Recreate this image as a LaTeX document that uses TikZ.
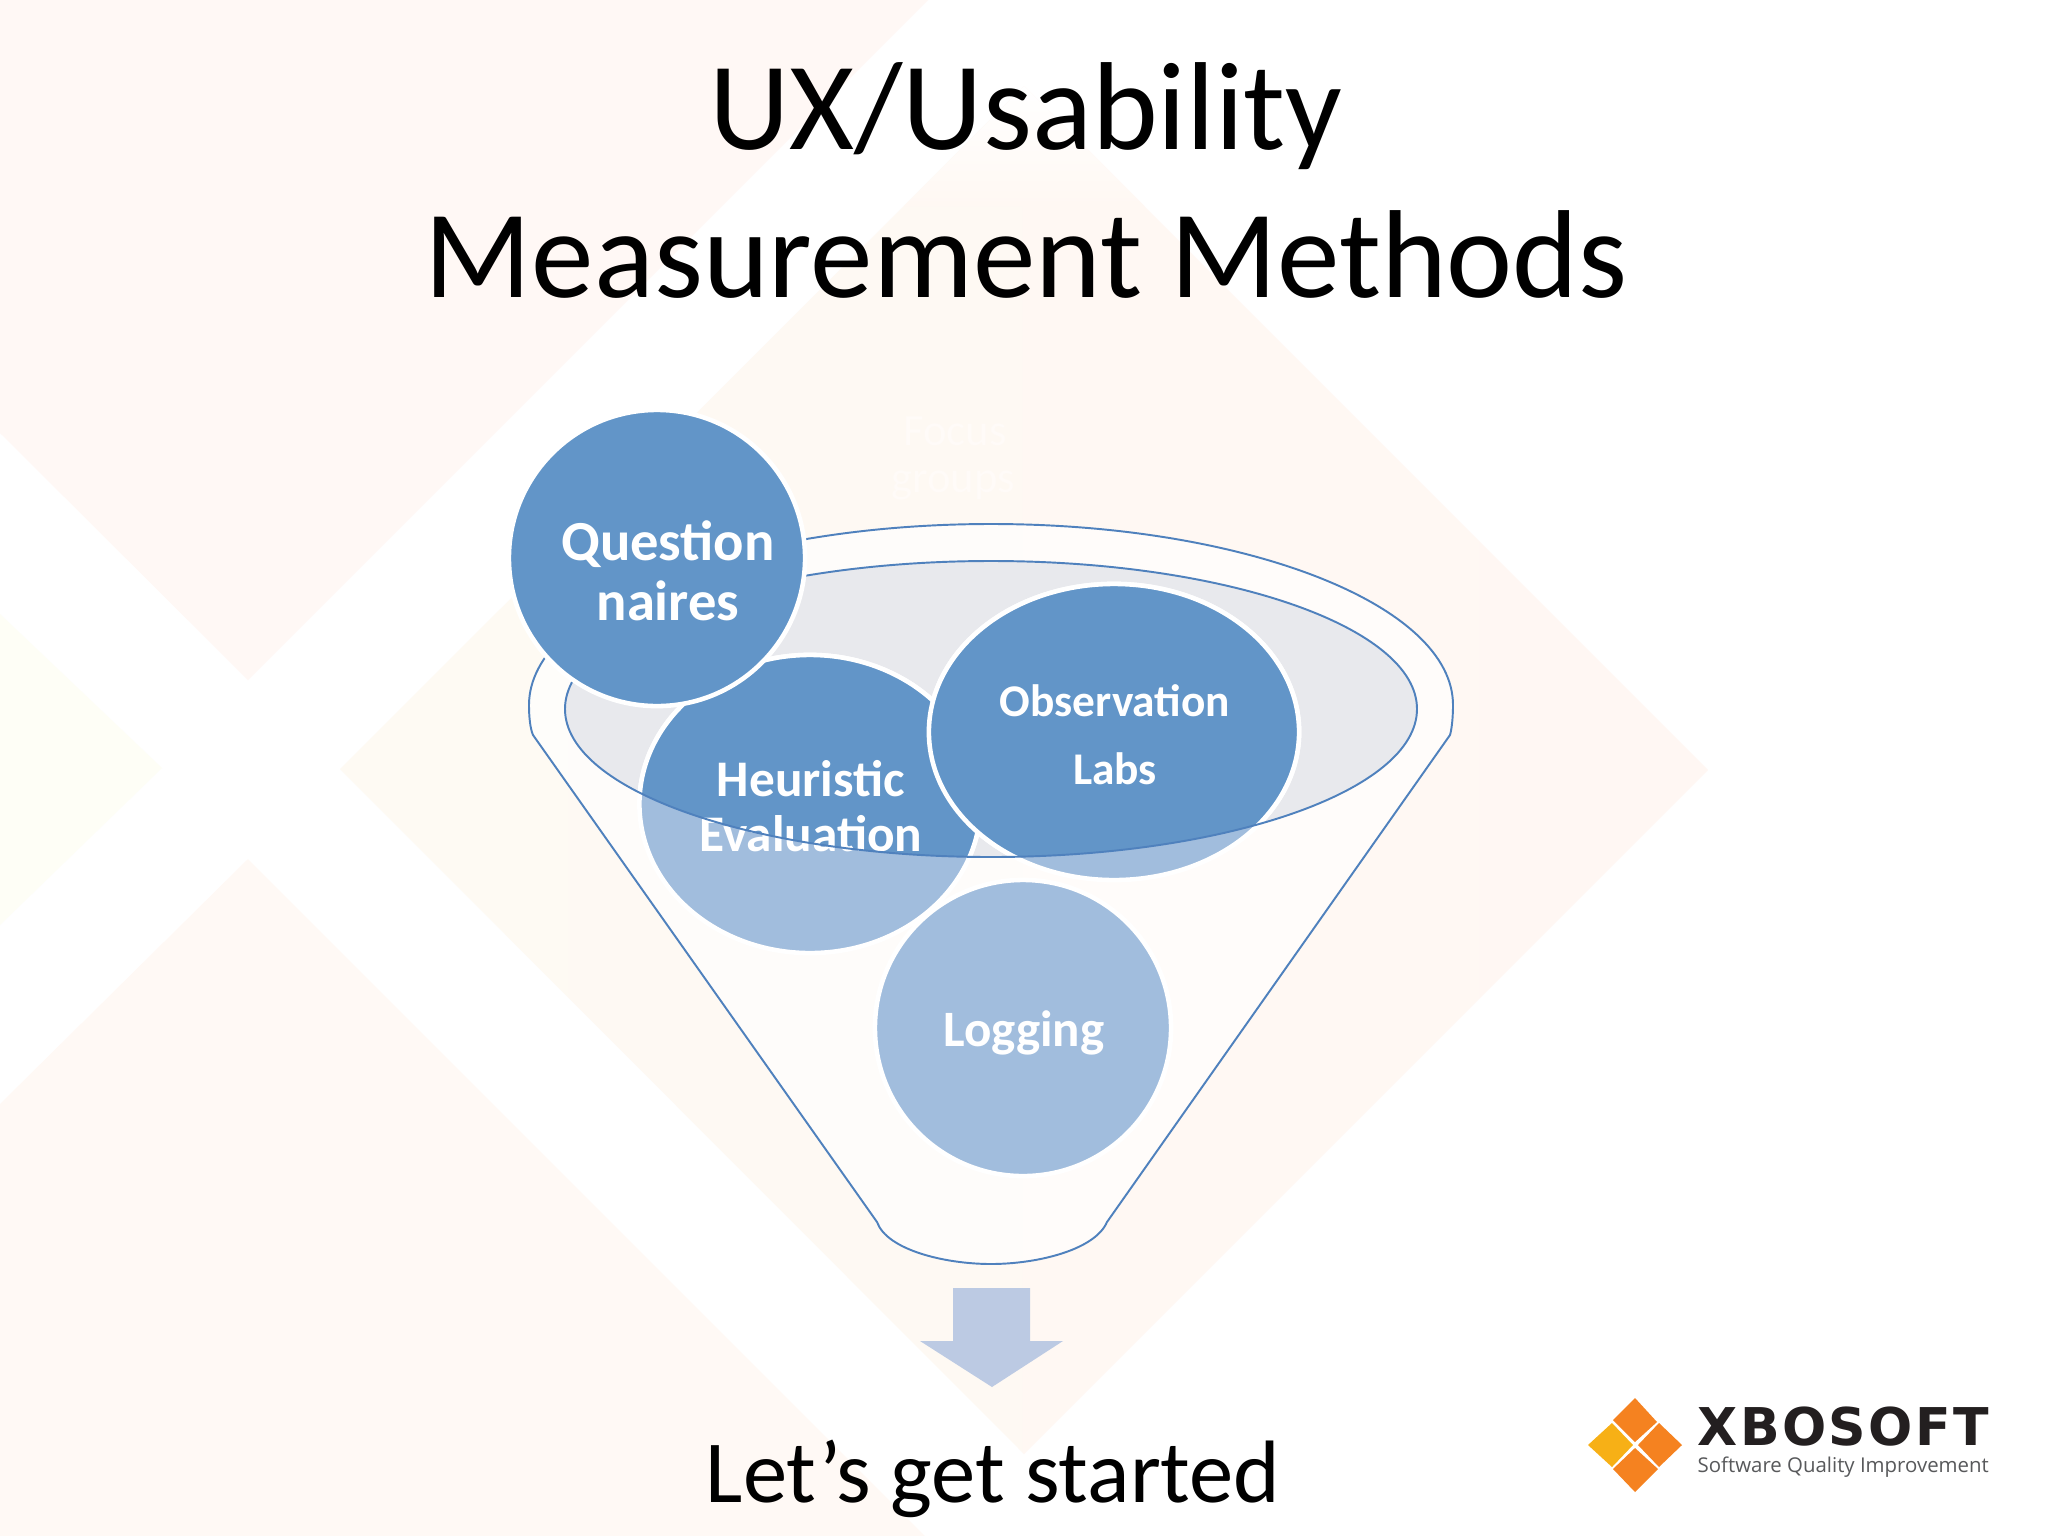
\documentclass[tikz,border=0pt]{standalone}
\usepackage{fontspec}
\setmainfont{Carlito}
\newfontfamily\logofont[LetterSpace=4.5]{DejaVu Sans}
\newfontfamily\logosub{Open Sans}
\usetikzlibrary{shapes.geometric}
\definecolor{bgA}{HTML}{FFF8F5}
\definecolor{bgB}{HTML}{FEFEF6}
\definecolor{bgC}{HTML}{FFF9F5}
\definecolor{diaL}{HTML}{FEFAF3}
\definecolor{diaM}{HTML}{FFF8F3}
\definecolor{diaR}{HTML}{FFF7F3}
\definecolor{rim}{HTML}{4F81BD}
\definecolor{darkblue}{HTML}{6295C8}
\definecolor{lightblue}{HTML}{A1BDDD}
\definecolor{mouth}{HTML}{E8E9ED}
\definecolor{downarrow}{HTML}{BCCAE3}
\definecolor{logoO}{HTML}{F58220}
\definecolor{logoY}{HTML}{F7B016}
\definecolor{logoK}{HTML}{231F20}
\definecolor{logoG}{HTML}{58595B}
\definecolor{ghost}{HTML}{FFFBF8}
\tikzset{
  bubble/.style={ellipse,draw=white,line width=1.3pt,inner sep=0pt},
  dark/.style={bubble,fill=darkblue},
  light/.style={bubble,fill=lightblue},
  bubbletext/.style={text=white,font=\bfseries,anchor=base,inner sep=0pt},
  titletext/.style={text=black,anchor=base,inner sep=0pt,font=\fontsize{35.6}{40}\selectfont},
  rimline/.style={draw=rim,line width=0.55pt},
  logotile/.style={fill=logoO,draw=none}
}
\begin{document}
\begin{tikzpicture}[x=0.01cm,y=-0.01cm]
\useasboundingbox (0,0) rectangle (2048,1536);
\fill[white] (0,0) rectangle (2048,1536);
% background shapes
\fill[bgA] (0,0) -- (928,0) -- (248,680) -- (0,433) -- cycle;
\fill[bgB] (0,614) -- (162,768) -- (0,925) -- cycle;
\fill[bgC] (248,859) -- (0,1104) -- (0,1536) -- (925,1536) -- cycle;
\shade[left color=diaL,right color=diaR] (340,769) -- (1024,86) -- (1708,770) -- (1024,1454) -- cycle;
\shade[top color=white,bottom color=diaM] (1024,86) -- (1144,206) -- (904,206) -- cycle;
% funnel body
\path[fill=white,fill opacity=0.6,rimline]
  (533,735) .. controls (530,728) and (529,716) .. (529,705)
  arc [start angle=180,end angle=360,x radius=462,y radius=181]
  .. controls (1453,716) and (1452,728) .. (1450,735)
  -- (1107,1222) .. controls (1095,1250) and (1037,1264) .. (991,1264)
  .. controls (945,1264) and (887,1250) .. (877,1222) -- cycle;
% funnel mouth
\fill[mouth] (991,709) ellipse [x radius=426,y radius=148];
% bubbles, light part
\node[light,minimum width=3.41cm,minimum height=2.98cm] (heuL) at (810,804) {};
\node[light,minimum width=3.70cm,minimum height=2.96cm] (obsL) at (1114,732) {};
\node[light,minimum width=2.96cm,minimum height=2.96cm] (logBubble) at (1023,1028) {};
% bubbles, dark part inside the mouth
\begin{scope}
\clip (991,709) ellipse [x radius=426,y radius=148];
\node[dark,minimum width=3.41cm,minimum height=2.98cm] (heuD) at (810,804) {};
\node[dark,minimum width=3.70cm,minimum height=2.96cm] (obsD) at (1114,732) {};
\end{scope}
% labels
\node[bubbletext,font=\bfseries\fontsize{14.6}{16}\selectfont] (heuA) at (811,796) {Heuristic};
\node[bubbletext,font=\bfseries\fontsize{14.6}{16}\selectfont] (heuB) at (811,851) {Evaluation};
\node[bubbletext,font=\bfseries\fontsize{12.9}{15}\selectfont] (obsA) at (1115,716) {Observation};
\node[bubbletext,font=\bfseries\fontsize{12.9}{15}\selectfont] (obsB) at (1115,784) {Labs};
\node[bubbletext,font=\bfseries\fontsize{14.5}{16}\selectfont] (logText) at (1024,1046) {Logging};
\draw[rimline] (991,709) ellipse [x radius=426,y radius=148];
% top bubble
\node[dark,minimum width=2.96cm,minimum height=2.96cm] (queBubble) at (657,558) {};
\node[bubbletext,font=\bfseries\fontsize{16.1}{18}\selectfont] (queA) at (668,560) {Question};
\node[bubbletext,font=\bfseries\fontsize{16.1}{18}\selectfont] (queB) at (668,620) {naires};
% ghost text
\node[anchor=base,inner sep=0pt,text=ghost,font=\fontsize{12.7}{15}\selectfont] (ghostA) at (955,445) {Focus};
\node[anchor=base,inner sep=0pt,text=ghost,font=\fontsize{12.7}{15}\selectfont] (ghostB) at (953,492) {groups};
% arrow
\fill[downarrow] (953,1288) -- (1030,1288) -- (1030,1341) -- (1063,1341) -- (992,1387) -- (920,1341) -- (953,1341) -- cycle;
% titles
\node[titletext] (titleA) at (1026,149) {UX/Usability};
\node[titletext] (titleB) at (1026,297) {Measurement Methods};
\node[titletext,font=\fontsize{25.2}{30}\selectfont] (footer) at (993,1502) {Let’s get started};
% logo
\fill[logotile] (1635,1398) -- (1657,1422) -- (1635,1442) -- (1613,1420) -- cycle;
\fill[logotile,fill=logoY] (1612,1423) -- (1633,1445) -- (1612,1467) -- (1588,1445) -- cycle;
\fill[logotile] (1659,1423) -- (1682,1445) -- (1659,1467) -- (1638,1445) -- cycle;
\fill[logotile] (1635,1448) -- (1658,1469) -- (1635,1492) -- (1613,1469) -- cycle;
\node[anchor=base west,inner sep=0pt,text=logoK,font=\logofont\bfseries\fontsize{14.8}{16}\selectfont] (logoA) at (1697,1445) {XBOSOFT};
\node[anchor=base west,inner sep=0pt,text=logoG,font=\logosub\fontsize{5.8}{7}\selectfont] (logoB) at (1697,1472) {Software Quality Improvement};
\end{tikzpicture}
\end{document}
